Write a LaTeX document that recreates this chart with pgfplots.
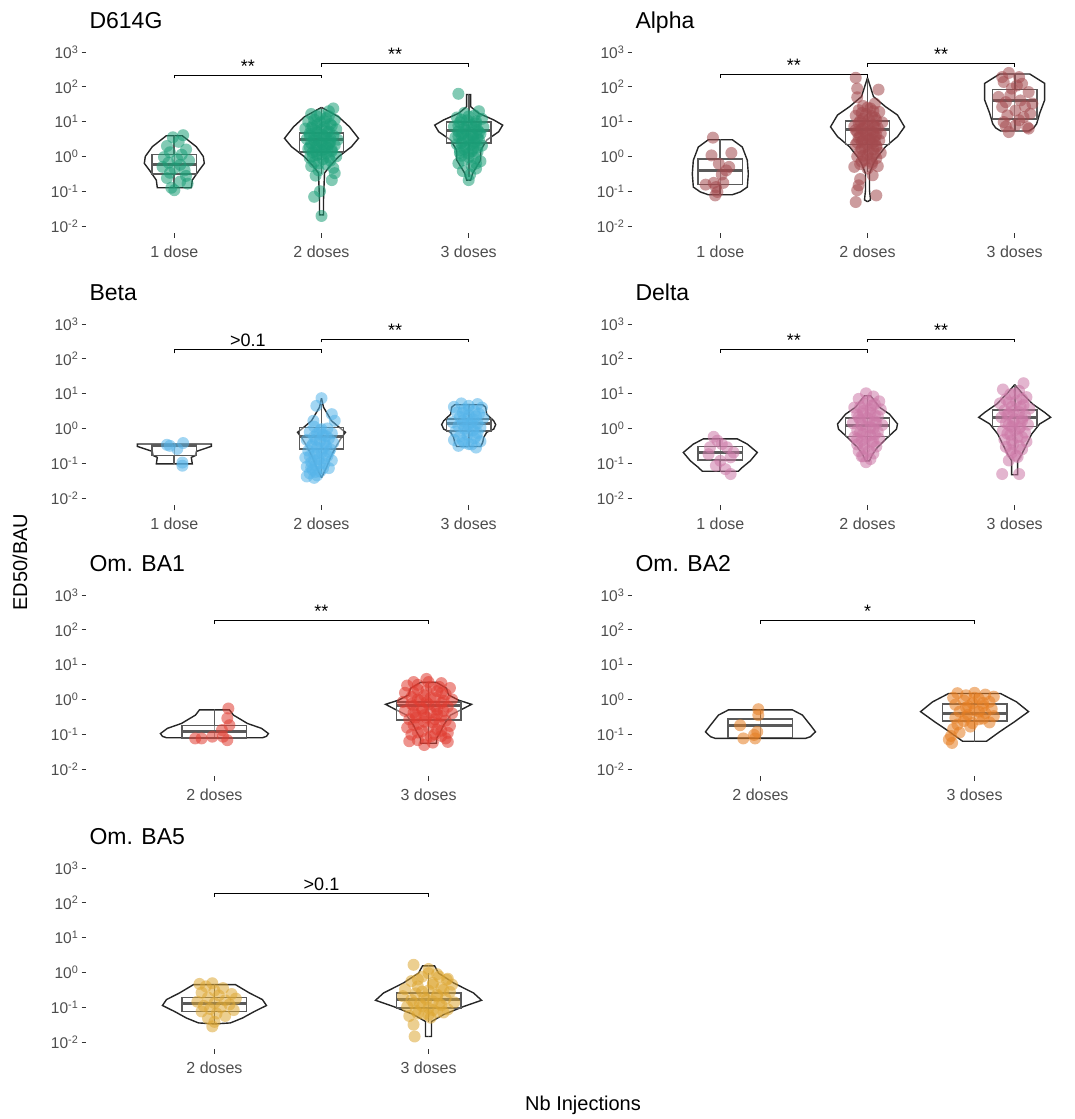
\documentclass[border=0pt]{standalone}
\usepackage{fontspec}
\setmainfont{Liberation Sans}
\usepackage{pgfplots}
\usepackage{pgfplotstable}
\pgfplotsset{compat=1.18}
\usepgfplotslibrary{statistics}

\definecolor{cD}{HTML}{1B9E77}
\definecolor{cA}{HTML}{A34A4E}
\definecolor{cB}{HTML}{56B4E9}
\definecolor{cDe}{HTML}{CC79A7}
\definecolor{cOa}{HTML}{E03C31}
\definecolor{cOb}{HTML}{E67E22}
\definecolor{cOc}{HTML}{DDA734}
\definecolor{tickgray}{HTML}{333333}
\definecolor{labgray}{HTML}{4D4D4D}
\definecolor{boxgray}{HTML}{5A5A5A}

% violin outlines: e = log10(ED50/BAU), w = half width in px
\pgfplotstableread{
e w
0.595 0
0.595 8
0.28 22
0.00 29
-0.20 30
-0.39 25
-0.68 18
-0.90 17
-0.90 0
}\vDa
\pgfplotstableread{
e w
1.41 0
1.14 17
0.85 28
0.52 37
0.28 30
-0.01 17
-0.29 8
-0.48 3
-1.25 2
-1.68 2
-1.68 0
}\vDb
\pgfplotstableread{
e w
1.78 0
1.78 2
1.43 2
1.24 10
1.05 25
0.90 34
0.71 30
0.47 18
0.18 12
-0.10 12
-0.29 8
-0.48 4
-0.68 2
-0.68 0
}\vDc
\pgfplotstableread{
e w
0.48 0
0.48 12
0.27 22
-0.11 27
-0.50 28
-0.88 27
-1.02 20
-1.10 12
-1.10 0
}\vAa
\pgfplotstableread{
e w
2.26 0
1.99 3
1.72 6
1.43 18
1.19 30
0.85 37
0.57 30
0.28 18
-0.01 10
-0.20 6
-0.49 2
-0.97 2
-1.25 3
-1.30 0
}\vAb
\pgfplotstableread{
e w
2.37 0
2.37 15
2.10 30
1.62 30
1.24 25
0.94 22
0.82 19
0.73 14
0.73 0
}\vAc
\pgfplotstableread{
e w
-0.448 0
-0.448 37
-0.515 37
-0.66 22
-0.78 21
-0.83 17
-1.02 18
-1.02 0
}\vBa
\pgfplotstableread{
e w
0.87 0
0.61 2
0.22 10
-0.07 22
-0.11 24
-0.26 20
-0.54 14
-0.83 9
-1.12 5
-1.41 0
}\vBb
\pgfplotstableread{
e w
0.68 0
0.68 14
0.61 17
0.41 18
0.22 25
0.11 27
-0.02 25
-0.11 18
-0.26 15
-0.40 14
-0.52 12
-0.52 0
}\vBc
\pgfplotstableread{
e w
-0.30 0
-0.30 17
-0.45 27
-0.69 37
-0.93 30
-1.12 22
-1.23 18
-1.23 0
}\vEa
\pgfplotstableread{
e w
0.94 0
0.94 3
0.61 12
0.41 22
0.13 30
-0.02 29
-0.26 20
-0.54 10
-0.74 5
-0.93 2
-0.93 0
}\vEb
\pgfplotstableread{
e w
1.26 0
0.99 8
0.70 18
0.46 30
0.32 36
0.13 25
-0.16 17
-0.45 12
-0.74 7
-0.93 3
-1.21 3
-1.33 3
-1.33 0
}\vEc
\pgfplotstableread{
e w
-0.30 0
-0.30 15
-0.45 19
-0.69 33
-0.83 47
-0.98 54
-1.06 52
-1.10 48
-1.10 0
}\vOaa
\pgfplotstableread{
e w
0.49 0
0.49 8
0.32 18
0.13 20
-0.02 30
-0.14 43
-0.26 35
-0.45 22
-0.74 15
-0.93 12
-1.12 8
-1.26 8
-1.26 0
}\vOab
\pgfplotstableread{
e w
-0.30 0
-0.30 32
-0.45 42
-0.74 50
-0.93 55
-1.07 50
-1.12 45
-1.12 0
}\vOba
\pgfplotstableread{
e w
0.17 0
0.17 26
-0.07 42
-0.35 54
-0.64 40
-0.93 25
-1.20 12
-1.20 0
}\vObb
\pgfplotstableread{
e w
-0.35 0
-0.35 21
-0.59 35
-0.78 48
-0.95 52
-1.12 40
-1.31 28
-1.45 16
-1.48 0
}\vOca
\pgfplotstableread{
e w
0.19 0
0.19 6
-0.02 10
-0.30 25
-0.59 45
-0.80 53
-0.98 35
-1.21 15
-1.41 3
-1.84 3
-1.84 0
}\vOcb

\pgfplotsset{
  panel/.style={scale only axis, width=471pt, height=191.4pt,
    xmin=0.4, ymin=-2.2, ymax=3.3, clip=false,
    axis x line*=bottom, axis y line*=left, axis line style={draw=none},
    tick align=outside, major tick length=4.5pt,
    tick style={draw=tickgray, line width=0.8pt},
    ytick={-2,-1,0,1,2,3},
    yticklabels={10\textsuperscript{-2},10\textsuperscript{-1},10\textsuperscript{0},10\textsuperscript{1},10\textsuperscript{2},10\textsuperscript{3}},
    xticklabel style={font=\fontsize{16}{18}\selectfont, text=labgray, inner sep=3pt, yshift=-5pt},
    yticklabel style={font=\fontsize{15.5}{18}\selectfont, text=labgray, inner sep=3pt},
  },
  three/.style={panel, xmax=3.6, xtick={1,2,3}, xticklabels={1 dose,2 doses,3 doses}},
  two/.style={panel, xmax=2.6, xtick={1,2}, xticklabels={2 doses,3 doses}},
  pts/.style={only marks, color=#1, mark=*, mark size=6pt,
    mark options={draw opacity=0, fill=#1, fill opacity=0.55}},
  vio/.style={draw=black!85, line width=1.4pt, no marks},
  wsk/.style={draw=boxgray, line width=1.4pt, no marks},
  bxs/.style={draw=boxgray, line width=1.7pt, fill=white, fill opacity=0.4, solid},
  brk/.style={draw=black, line width=1pt, no marks},
}
\tikzset{
  sig/.style={anchor=base, yshift=3pt, font=\fontsize{18}{20}\selectfont},
  ttl/.style={anchor=base west, yshift=13.6pt, font=\fontsize{23}{26}\selectfont},
}

\newcommand{\violin}[3]{%
  \addplot[vio] table[x expr=#2+\thisrow{w}/#3, y=e] {#1};
  \addplot[vio] table[x expr=#2-\thisrow{w}/#3, y=e] {#1};
}
% pos, lower whisker, q1, median, q3, upper whisker
\newcommand{\bx}[6]{%
  \addplot[wsk] coordinates {(#1,#2) (#1,#6)};
  \addplot[bxs, boxplot/draw direction=y, boxplot prepared={draw position=#1, lower whisker=#2,
    lower quartile=#3, median=#4, upper quartile=#5, upper whisker=#6,
    box extend=0.3, whisker extend=0, every median/.style={line width=3pt}}] coordinates {};
}

\begin{document}
\begin{tikzpicture}
\useasboundingbox (0,0) rectangle (1074pt,-1119pt);

% ---------------- D614G
\begin{axis}[three, at={(86pt,-233pt)}]
\addplot[pts=cD] coordinates {(1.06,0.61) (0.99,0.55) (1.03,0.42) (0.95,0.30) (1.08,0.20) (0.97,0.12) (1.05,0.05) (0.93,-0.02) (1.02,-0.08) (1.10,-0.12) (0.96,-0.18) (1.04,-0.24) (0.92,-0.30) (1.00,-0.34) (1.07,-0.40) (0.97,-0.47) (1.08,-0.56) (0.95,-0.62) (1.04,-0.72) (1.09,-0.78) (0.98,-0.90) (1.00,-0.97)};
\addplot[pts=cD] coordinates {(2.08,1.38) (2.05,1.30) (1.93,1.22) (1.97,1.15) (2.03,1.10) (2.09,1.05) (1.91,1.00) (1.99,0.98) (2.06,0.93) (1.94,0.88) (2.02,0.85) (1.89,0.80) (2.10,0.78) (1.96,0.74) (2.04,0.70) (1.92,0.66) (2.00,0.63) (2.08,0.60) (1.95,0.56) (2.03,0.53) (1.90,0.50) (2.11,0.48) (1.98,0.45) (2.06,0.42) (1.93,0.38) (2.01,0.35) (2.09,0.32) (1.96,0.28) (2.04,0.25) (1.91,0.22) (2.00,0.18) (2.07,0.15) (1.94,0.12) (2.03,0.08) (1.97,0.04) (2.10,0.00) (1.92,-0.04) (2.01,-0.08) (2.06,-0.12) (1.95,-0.17) (2.03,-0.22) (1.93,-0.28) (2.08,-0.33) (1.98,-0.40) (2.09,-0.48) (1.96,-0.55) (2.07,-0.68) (1.99,-1.00) (1.95,-1.16) (2.00,-1.71)
 (1.99,1.20) (2.05,1.16) (1.95,1.06) (2.02,1.01) (1.97,0.92) (2.07,0.88) (1.93,0.82) (2.00,0.77) (2.05,0.72) (1.97,0.69) (1.92,0.60) (2.02,0.58) (2.06,0.51) (1.95,0.46) (2.00,0.40) (2.05,0.36) (1.97,0.31) (1.92,0.27) (2.02,0.21) (2.07,0.19) (1.96,0.15) (2.00,0.06) (1.94,0.01) (2.05,-0.03) (1.98,-0.20)};
\addplot[pts=cD] coordinates {(2.93,1.80) (3.07,1.30) (2.97,1.25) (3.04,1.18) (2.92,1.12) (3.09,1.08) (2.99,1.04) (2.94,0.98) (3.05,0.95) (3.02,0.90) (2.90,0.86) (3.10,0.84) (2.97,0.80) (3.06,0.76) (2.93,0.72) (3.01,0.69) (3.08,0.65) (2.95,0.62) (3.03,0.58) (2.91,0.55) (3.00,0.51) (3.07,0.47) (2.96,0.43) (3.04,0.39) (2.92,0.35) (3.09,0.31) (2.98,0.27) (3.03,0.22) (2.94,0.18) (3.06,0.13) (3.00,0.08) (2.95,0.02) (3.04,-0.04) (2.97,-0.10) (3.08,-0.14) (2.93,-0.20) (3.02,-0.27) (3.05,-0.35) (2.96,-0.42) (3.01,-0.52) (3.00,-0.68)
 (3.00,1.15) (2.95,1.06) (3.05,1.01) (2.99,0.93) (2.93,0.89) (3.04,0.83) (2.98,0.75) (3.07,0.70) (2.96,0.66) (3.02,0.61) (2.93,0.58) (3.06,0.54) (2.99,0.47) (3.04,0.43) (2.95,0.38) (3.01,0.32) (3.06,0.26) (2.97,0.21) (3.02,0.15) (2.94,0.10) (3.00,-0.02) (3.05,-0.20)};
\violin{\vDa}{1}{147.2}
\violin{\vDb}{2}{147.2}
\violin{\vDc}{3}{147.2}
\bx{1}{-0.90}{-0.506}{-0.227}{0.06}{0.595}
\bx{2}{-0.50}{0.13}{0.48}{0.68}{1.41}
\bx{3}{-0.58}{0.38}{0.74}{0.98}{1.78}
\addplot[brk] coordinates {(1,2.24) (1,2.34) (2,2.34) (2,2.24)};
\addplot[brk] coordinates {(2,2.58) (2,2.68) (3,2.68) (3,2.58)};
\node[sig] at (axis cs:1.5,2.34) {**};
\node[sig] at (axis cs:2.5,2.68) {**};
\node[ttl] at (rel axis cs:0,1) {D614G};
\end{axis}

% ---------------- Alpha
\begin{axis}[three, at={(632pt,-233pt)}]
\addplot[pts=cA] coordinates {(0.95,0.54) (0.94,0.03) (1.075,0.10) (0.99,-0.21) (1.06,-0.30) (1.01,-0.52) (0.955,-0.76) (0.90,-0.81) (1.02,-0.76) (0.97,-0.88) (0.965,-1.12) (0.98,-1.02) (1.04,-0.40)};
\addplot[pts=cA] coordinates {(1.92,2.26) (2.075,1.92) (1.93,1.95) (1.93,1.70) (1.91,-0.30) (2.035,-0.54) (1.94,-0.83) (1.93,-0.97) (2.06,-1.12) (1.92,-1.31) (1.95,-0.65) (2.05,1.52) (1.97,1.45) (2.02,1.38) (1.94,1.33) (2.08,1.28) (1.99,1.22) (1.92,1.17) (2.05,1.12) (2.01,1.06) (1.95,1.02) (2.10,0.98) (1.98,0.94) (2.04,0.90) (1.91,0.86) (2.07,0.82) (1.96,0.78) (2.02,0.74) (1.93,0.70) (2.09,0.66) (1.99,0.62) (2.05,0.58) (1.94,0.54) (2.01,0.50) (2.08,0.46) (1.96,0.42) (2.03,0.38) (1.92,0.34) (2.06,0.30) (1.98,0.25) (2.04,0.20) (1.95,0.15) (2.09,0.10) (2.00,0.05) (1.93,0.00) (2.06,-0.05) (1.98,-0.10) (2.03,-0.16) (1.95,-0.22) (2.07,-0.28) (2.00,-0.35)
 (2.00,1.40) (2.04,1.30) (1.96,1.25) (2.03,1.16) (1.97,1.08) (2.06,1.04) (1.94,0.96) (2.00,0.90) (2.05,0.85) (1.97,0.80) (1.92,0.76) (2.04,0.70) (1.99,0.67) (2.06,0.61) (1.95,0.58) (2.02,0.52) (1.97,0.47) (2.05,0.43) (1.93,0.40) (2.00,0.34) (2.06,0.28) (1.96,0.22) (2.01,0.16) (2.05,0.08) (1.97,0.02) (2.02,-0.06) (1.96,-0.15) (2.03,-0.22)};
\addplot[pts=cA] coordinates {(2.96,2.40) (3.03,2.28) (2.925,2.14) (3.05,2.09) (2.98,1.95) (3.095,1.85) (2.89,1.71) (2.94,1.56) (3.04,1.61) (3.12,1.52) (2.915,1.42) (3.005,1.32) (3.07,1.44) (2.95,1.18) (3.105,1.23) (2.925,0.99) (3.03,1.04) (3.085,0.84) (2.94,0.86) (2.96,0.70) (3.095,0.80) (3.005,0.89) (3.06,1.13) (2.97,1.75) (3.015,2.04) (2.915,2.28)};
\violin{\vAa}{1}{147.2}
\violin{\vAb}{2}{147.2}
\violin{\vAc}{3}{147.2}
\bx{1}{-1.10}{-0.81}{-0.40}{-0.08}{0.48}
\bx{2}{-0.45}{0.34}{0.78}{1.02}{2.26}
\bx{3}{0.73}{1.07}{1.62}{1.92}{2.37}
\addplot[brk] coordinates {(1,2.25) (1,2.35) (2,2.35) (2,2.25)};
\addplot[brk] coordinates {(2,2.58) (2,2.68) (3,2.68) (3,2.58)};
\node[sig] at (axis cs:1.5,2.35) {**};
\node[sig] at (axis cs:2.5,2.68) {**};
\node[ttl] at (rel axis cs:0,1) {Alpha};
\end{axis}

% ---------------- Beta
\begin{axis}[three, at={(86pt,-505pt)}]
\addplot[pts=cB] coordinates {(0.97,-0.50) (1.06,-0.42) (1.055,-1.07) (1.02,-0.59) (0.95,-0.47) (1.055,-0.98)};
\addplot[pts=cB] coordinates {(2.00,0.87) (1.965,0.65) (2.07,0.41) (2.09,0.22) (1.945,0.22) (1.95,0.05) (2.04,0.00) (1.99,-0.05) (1.92,-0.10) (2.07,-0.14) (2.01,-0.19) (1.95,-0.24) (2.05,-0.29) (1.90,-0.33) (1.99,-0.37) (2.08,-0.41) (1.94,-0.46) (2.03,-0.50) (1.97,-0.55) (2.06,-0.60) (1.91,-0.64) (2.00,-0.69) (1.95,-0.74) (2.04,-0.79) (1.89,-0.84) (1.98,-0.88) (2.07,-0.92) (1.93,-0.97) (2.02,-1.01) (1.96,-1.06) (1.90,-1.10) (2.05,-1.14) (1.94,-1.19) (1.99,-1.24) (1.92,-1.29) (1.97,-1.35) (1.95,-1.42)
 (2.00,-0.02) (1.97,-0.15) (2.03,-0.22) (1.96,-0.32) (2.02,-0.40) (1.93,-0.52) (2.01,-0.58) (2.05,-0.68) (1.97,-0.72) (1.92,-0.80) (2.02,-0.85) (1.95,-0.92) (1.99,-1.00) (1.93,-1.12) (2.01,-1.15) (1.96,-1.25) (1.90,-1.38)};
\addplot[pts=cB] coordinates {(2.95,0.72) (3.06,0.70) (3.00,0.65) (2.90,0.62) (3.09,0.60) (2.97,0.55) (3.04,0.50) (2.92,0.46) (3.07,0.42) (3.00,0.38) (2.94,0.33) (3.10,0.30) (3.03,0.26) (2.96,0.22) (2.89,0.18) (3.06,0.15) (3.00,0.11) (2.93,0.07) (3.08,0.03) (2.97,-0.01) (3.03,-0.05) (2.91,-0.09) (3.06,-0.13) (2.99,-0.18) (2.94,-0.23) (3.04,-0.28) (2.90,-0.33) (3.08,-0.37) (2.97,-0.41) (3.02,-0.46) (2.93,-0.50) (3.05,-0.55)
 (3.00,0.55) (2.96,0.45) (3.05,0.35) (2.99,0.28) (3.02,0.18) (2.96,0.12) (3.04,0.05) (2.99,-0.08) (3.05,-0.22) (2.96,-0.35) (3.00,-0.45)};
\violin{\vBa}{1}{147.2}
\violin{\vBb}{2}{147.2}
\violin{\vBc}{3}{147.2}
\bx{1}{-1.02}{-0.78}{-0.49}{-0.47}{-0.45}
\bx{2}{-1.30}{-0.59}{-0.24}{0.03}{0.70}
\bx{3}{-0.52}{-0.07}{0.15}{0.27}{0.68}
\addplot[brk] coordinates {(1,2.16) (1,2.26) (2,2.26) (2,2.16)};
\addplot[brk] coordinates {(2,2.47) (2,2.57) (3,2.57) (3,2.47)};
\node[sig] at (axis cs:1.5,2.26) {>0.1};
\node[sig] at (axis cs:2.5,2.57) {**};
\node[ttl] at (rel axis cs:0,1) {Beta};
\end{axis}

% ---------------- Delta
\begin{axis}[three, at={(632pt,-505pt)}]
\addplot[pts=cDe] coordinates {(0.955,-0.24) (0.98,-0.35) (1.01,-0.45) (1.045,-0.54) (1.09,-0.69) (1.07,-0.83) (0.97,-1.07) (1.035,-1.17) (1.07,-1.31) (1.00,-0.93) (0.92,-0.74) (0.93,-0.54)};
\addplot[pts=cDe] coordinates {(1.99,1.01) (2.04,0.92) (1.94,0.85) (2.08,0.78) (1.98,0.72) (2.03,0.66) (1.91,0.60) (2.09,0.55) (1.97,0.50) (2.02,0.45) (1.93,0.40) (2.07,0.35) (2.00,0.30) (1.95,0.25) (2.05,0.20) (1.90,0.15) (2.10,0.10) (1.99,0.05) (2.04,0.00) (1.93,-0.05) (2.07,-0.10) (1.97,-0.15) (2.02,-0.20) (1.91,-0.25) (2.08,-0.30) (1.96,-0.35) (2.03,-0.40) (1.93,-0.46) (2.06,-0.52) (1.98,-0.58) (1.94,-0.65) (2.04,-0.72) (1.97,-0.80) (2.02,-0.88) (1.99,-0.97)
 (2.00,0.80) (2.05,0.70) (1.95,0.62) (2.02,0.55) (1.97,0.43) (2.05,0.38) (1.94,0.32) (2.01,0.22) (2.06,0.15) (1.96,0.10) (2.02,0.03) (1.95,-0.10) (2.05,-0.17) (1.99,-0.25) (1.93,-0.30) (2.04,-0.38) (1.98,-0.47) (2.01,-0.65) (1.96,-0.80)};
\addplot[pts=cDe] coordinates {(3.06,1.30) (2.915,-1.31) (3.03,-1.31) (2.92,1.12) (3.03,1.08) (2.97,0.98) (3.08,0.90) (2.94,0.84) (3.01,0.78) (2.90,0.72) (3.06,0.67) (2.98,0.62) (3.10,0.57) (2.93,0.52) (3.03,0.47) (2.96,0.42) (3.07,0.37) (2.91,0.32) (3.00,0.27) (3.05,0.22) (2.94,0.16) (3.09,0.11) (2.98,0.05) (3.03,0.00) (2.92,-0.06) (3.07,-0.12) (2.97,-0.18) (3.02,-0.25) (2.93,-0.32) (3.08,-0.38) (2.99,-0.45) (2.94,-0.53) (3.05,-0.60) (2.98,-0.70) (3.02,-0.82) (2.96,-0.92)
 (3.00,1.00) (3.05,0.85) (2.96,0.75) (3.04,0.62) (2.99,0.50) (2.95,0.40) (3.05,0.30) (2.99,0.20) (2.96,0.10) (3.04,0.05) (3.00,-0.05) (2.95,-0.15) (3.05,-0.25) (2.98,-0.35) (3.03,-0.50) (2.97,-0.62) (3.01,-0.78)};
\violin{\vEa}{1}{147.2}
\violin{\vEb}{2}{147.2}
\violin{\vEc}{3}{147.2}
\bx{1}{-1.23}{-0.90}{-0.69}{-0.52}{-0.30}
\bx{2}{-0.93}{-0.23}{0.08}{0.30}{0.94}
\bx{3}{-0.74}{0.06}{0.32}{0.54}{1.26}
\addplot[brk] coordinates {(1,2.18) (1,2.28) (2,2.28) (2,2.18)};
\addplot[brk] coordinates {(2,2.47) (2,2.57) (3,2.57) (3,2.47)};
\node[sig] at (axis cs:1.5,2.28) {**};
\node[sig] at (axis cs:2.5,2.57) {**};
\node[ttl] at (rel axis cs:0,1) {Delta};
\end{axis}

% ---------------- Om. BA1
\begin{axis}[two, at={(86pt,-776pt)}]
\addplot[pts=cOa] coordinates {(1.065,-0.26) (1.06,-0.54) (1.07,-0.74) (1.035,-0.88) (1.04,-1.07) (1.06,-1.17) (0.99,-1.07) (0.94,-1.12) (0.91,-1.12)};
\addplot[pts=cOa] coordinates {(1.99,0.59) (1.93,0.50) (2.06,0.47) (1.90,0.40) (2.01,0.37) (2.10,0.33) (1.95,0.28) (2.04,0.24) (1.89,0.19) (2.08,0.15) (1.98,0.12) (1.92,0.07) (2.03,0.04) (2.11,0.00) (1.96,-0.03) (1.88,-0.07) (2.06,-0.10) (2.00,-0.14) (1.93,-0.18) (2.09,-0.21) (1.97,-0.25) (2.04,-0.29) (1.89,-0.33) (2.01,-0.37) (2.11,-0.40) (1.94,-0.44) (2.06,-0.48) (1.99,-0.52) (1.91,-0.57) (2.08,-0.61) (2.02,-0.66) (1.95,-0.71) (2.10,-0.76) (1.90,-0.81) (2.04,-0.86) (1.97,-0.91) (2.09,-0.96) (1.92,-1.01) (2.01,-1.06) (2.08,-1.12) (1.95,-1.17) (2.02,-1.24) (1.98,-1.31)
 (2.00,0.50) (1.95,0.42) (2.05,0.36) (1.99,0.25) (1.93,0.20) (2.06,0.19) (2.01,0.05) (1.95,0.00) (2.07,-0.04) (1.99,-0.08) (1.92,-0.13) (2.03,-0.20) (1.97,-0.30) (2.07,-0.33) (1.93,-0.38) (2.04,-0.42) (1.98,-0.45) (1.94,-0.52) (2.03,-0.57) (1.98,-0.64) (2.05,-0.70) (1.93,-0.73) (2.00,-0.80) (2.06,-0.90) (1.95,-0.95) (2.03,-1.00) (1.99,-1.12) (1.91,-1.20) (2.09,-1.22) (2.06,-1.05)};
\violin{\vOaa}{1}{214.1}
\violin{\vOab}{2}{214.1}
\bx{1}{-1.10}{-1.10}{-0.93}{-0.75}{-0.30}
\bx{2}{-1.26}{-0.59}{-0.16}{-0.07}{0.49}
\addplot[brk] coordinates {(1,2.18) (1,2.28) (2,2.28) (2,2.18)};
\node[sig] at (axis cs:1.5,2.28) {**};
\node[ttl] at (rel axis cs:0,1) {Om. BA1};
\end{axis}

% ---------------- Om. BA2
\begin{axis}[two, at={(632pt,-776pt)}]
\addplot[pts=cOb] coordinates {(0.99,-0.28) (0.99,-0.45) (0.905,-0.74) (0.97,-1.02) (0.92,-1.12) (0.975,-1.12) (0.985,-0.93)};
\addplot[pts=cOb] coordinates {(1.92,0.18) (2.00,0.19) (1.96,0.12) (2.05,0.14) (2.09,0.08) (1.90,0.05) (2.02,0.02) (1.95,-0.03) (2.07,-0.07) (1.99,-0.11) (1.91,-0.15) (2.04,-0.19) (1.96,-0.23) (2.08,-0.27) (2.00,-0.31) (1.93,-0.35) (2.05,-0.39) (1.97,-0.44) (2.09,-0.48) (1.91,-0.53) (2.02,-0.57) (1.95,-0.62) (2.07,-0.66) (1.92,-0.72) (1.98,-0.78) (1.90,-0.85) (1.93,-0.95) (1.89,-1.05) (1.88,-1.15) (1.895,-1.25)
 (2.00,0.05) (2.04,-0.10) (1.97,-0.20) (2.02,-0.35) (1.96,-0.50) (2.04,-0.55) (1.99,-0.68)};
\violin{\vOba}{1}{214.1}
\violin{\vObb}{2}{214.1}
\bx{1}{-1.09}{-1.09}{-0.76}{-0.56}{-0.30}
\bx{2}{-1.20}{-0.62}{-0.40}{-0.14}{0.17}
\addplot[brk] coordinates {(1,2.18) (1,2.28) (2,2.28) (2,2.18)};
\node[sig] at (axis cs:1.5,2.28) {*};
\node[ttl] at (rel axis cs:0,1) {Om. BA2};
\end{axis}

% ---------------- Om. BA5
\begin{axis}[two, at={(86pt,-1049pt)}]
\addplot[pts=cOc] coordinates {(0.93,-0.33) (0.99,-0.31) (0.96,-0.40) (1.04,-0.45) (1.00,-0.52) (0.94,-0.58) (1.08,-0.62) (1.02,-0.66) (0.97,-0.72) (1.10,-0.75) (1.05,-0.80) (0.92,-0.84) (1.00,-0.88) (1.07,-0.92) (0.95,-0.96) (1.03,-1.00) (0.98,-1.05) (1.09,-1.08) (0.94,-1.12) (1.01,-1.18) (1.05,-1.25) (0.97,-1.32) (1.00,-1.42) (0.99,-1.55)};
\addplot[pts=cOc] coordinates {(1.93,0.22) (1.93,-1.50) (1.935,-1.84) (2.085,-0.21) (2.00,0.10) (2.04,-0.05) (1.97,-0.12) (2.09,-0.18) (1.92,-0.25) (2.02,-0.30) (2.11,-0.35) (1.95,-0.40) (2.06,-0.44) (1.89,-0.48) (2.00,-0.52) (2.10,-0.56) (1.94,-0.60) (2.04,-0.64) (1.88,-0.68) (1.98,-0.72) (2.08,-0.75) (1.92,-0.79) (2.02,-0.83) (2.12,-0.86) (1.96,-0.90) (2.06,-0.94) (1.90,-0.98) (2.00,-1.02) (2.09,-1.06) (1.94,-1.10) (2.04,-1.14) (1.98,-1.19) (1.91,-1.25) (2.01,-1.30)
 (2.00,-0.02) (2.05,-0.12) (1.95,-0.20) (2.02,-0.35) (2.07,-0.50) (1.97,-0.55) (2.04,-0.68) (1.99,-0.78) (1.93,-0.88) (2.05,-0.90) (1.97,-0.97) (2.02,-1.08) (1.95,-1.18) (2.07,-1.15) (2.00,-1.22)};
\violin{\vOca}{1}{214.1}
\violin{\vOcb}{2}{214.1}
\bx{1}{-1.48}{-1.12}{-0.88}{-0.72}{-0.35}
\bx{2}{-1.42}{-1.02}{-0.78}{-0.59}{-0.02}
\addplot[brk] coordinates {(1,2.18) (1,2.28) (2,2.28) (2,2.18)};
\node[sig] at (axis cs:1.5,2.28) {>0.1};
\node[ttl] at (rel axis cs:0,1) {Om. BA5};
\end{axis}

\node[rotate=90, font=\fontsize{20}{24}\selectfont] at (20pt,-562pt) {ED50/BAU};
\node[font=\fontsize{20}{24}\selectfont] at (583pt,-1105pt) {Nb Injections};
\end{tikzpicture}
\end{document}
